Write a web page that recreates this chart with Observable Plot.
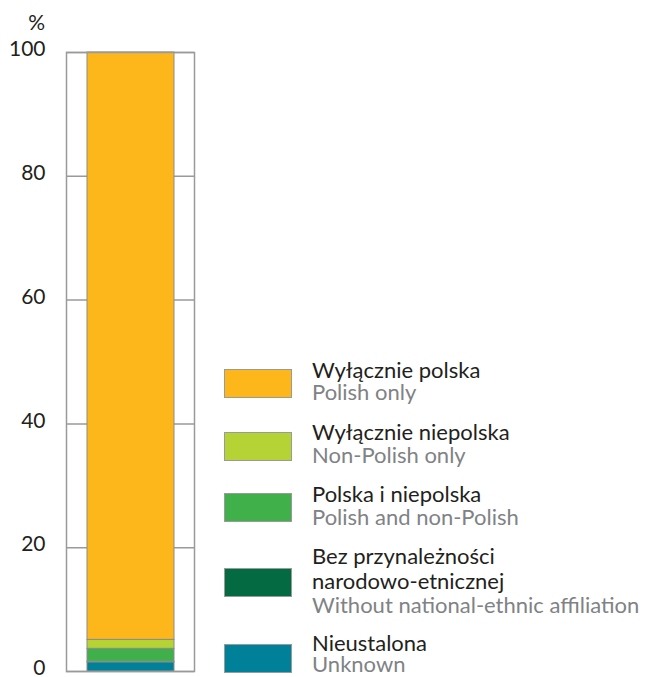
<!DOCTYPE html>
<html>
<head>
<meta charset="utf-8">
<script src="https://cdn.jsdelivr.net/npm/d3@7"></script>
<script src="https://cdn.jsdelivr.net/npm/@observablehq/plot@0.6"></script>
<style>
  body { margin: 0; background: #fff; }
  #wrap { position: relative; width: 651px; height: 677px; font-family: Lato, sans-serif; overflow: hidden; }
  #wrap svg { position: absolute; left: 0; top: 0; }
  .unit { position: absolute; left: 0; width: 45px; text-align: right; top: 11px; font-size: 21px; line-height: 21px; color: #231f20; }
  .sw { position: absolute; left: 224px; width: 68px; height: 29px; box-sizing: border-box; border: 1.5px solid #9a9a9a; }
  .lbl { position: absolute; left: 312px; font-size: 22px; white-space: nowrap; }
  .pl { color: #231f20; }
  .en { color: #808285; }
</style>
</head>
<body>
<div id="wrap"></div>
<script>
// Categories (legend order, top to bottom)
const labelsPl = ["Wyłącznie polska", "Wyłącznie niepolska", "Polska i niepolska", "Bez przynależności\nnarodowo-etnicznej", "Nieustalona"];
const labelsEn = ["Polish only", "Non-Polish only", "Polish and non-Polish", "Without national-ethnic affiliation", "Unknown"];
// Share of population, %
const shares = [94.9, 1.45, 2.1, 0.1, 1.45];
const colors = ["#fdb71a", "#b5d334", "#40b14a", "#046a41", "#00819a"];
const yTicks = [0, 20, 40, 60, 80, 100];
const group = ["Ogółem"];

// layout for the HTML legend
const swatchTop = [369, 432, 493, 568, 644];
const textTop = [358.5, 420, 482, 544.3, 631.8];
const lineH = [22, 23, 23, 24.5, 21.5];

const data = labelsEn.map((en, i) => ({group: group[0], key: en, value: shares[i]}));
const stackOrder = [...labelsEn].reverse();

const chart = Plot.plot({
  width: 651,
  height: 677,
  marginTop: 52,
  marginBottom: 6,
  marginLeft: 66,
  marginRight: 457,
  x: {domain: group, paddingInner: 0, paddingOuter: 0.2273, axis: null},
  y: {domain: [0, 100], axis: null},
  color: {domain: labelsEn, range: colors},
  style: {fontFamily: "Lato, sans-serif", fontSize: "21px", color: "#231f20", background: "transparent"},
  marks: [
    Plot.gridY(yTicks, {stroke: "#9a9a9a", strokeOpacity: 1, strokeWidth: 1.5}),
    Plot.barY(data, Plot.stackY({x: "group", y: "value", fill: "key", order: stackOrder, stroke: "#8c8c8c", strokeWidth: 1})),
    Plot.frame({stroke: "#9a9a9a", strokeWidth: 1.5}),
    Plot.axisY(yTicks, {tickSize: 0, tickPadding: 21, label: null, fontSize: 21, dy: -3, fill: "#231f20"})
  ]
});

const wrap = document.getElementById("wrap");
wrap.appendChild(chart);

const unit = document.createElement("div");
unit.className = "unit";
unit.textContent = "%";
wrap.appendChild(unit);

labelsPl.forEach((pl, i) => {
  const sw = document.createElement("div");
  sw.className = "sw";
  sw.style.top = swatchTop[i] + "px";
  sw.style.background = colors[i];
  wrap.appendChild(sw);
  const lbl = document.createElement("div");
  lbl.className = "lbl";
  lbl.style.top = textTop[i] + "px";
  lbl.style.lineHeight = lineH[i] + "px";
  pl.split("\n").forEach(line => {
    const d = document.createElement("div");
    d.className = "pl";
    d.textContent = line;
    lbl.appendChild(d);
  });
  const e = document.createElement("div");
  e.className = "en";
  e.textContent = labelsEn[i];
  lbl.appendChild(e);
  wrap.appendChild(lbl);
});
</script>
</body>
</html>
